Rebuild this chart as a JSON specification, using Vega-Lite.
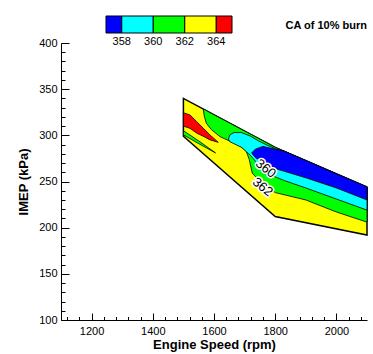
{
  "$schema": "https://vega.github.io/schema/vega-lite/v6.json",
  "width": 306,
  "height": 277,
  "autosize": {"type": "none"},
  "padding": {"left": 61, "top": 43, "right": 6, "bottom": 34},
  "title": {"text": "CA of 10% burn", "anchor": "end", "fontSize": 11, "fontWeight": "bold", "font": "Liberation Sans", "color": "black", "offset": -15, "frame": "group"},
  "config": {
    "view": {"stroke": null},
    "axis": {"domainColor": "black", "tickColor": "black", "labelColor": "black", "titleColor": "black", "labelFont": "Liberation Sans", "titleFont": "Liberation Sans", "labelFontSize": 11, "titleFontSize": 13, "titleFontWeight": "bold", "tickWidth": 1, "domainWidth": 1, "grid": false}
  },
  "data": {"values": [
    {"region": "base", "ca": 363, "rpm": 1500, "lo": 299, "hi": 340},
    {"region": "base", "ca": 363, "rpm": 1800, "lo": 212, "hi": 287},
    {"region": "base", "ca": 363, "rpm": 2100, "lo": 192, "hi": 244},

    {"region": "green", "ca": 361, "rpm": 1565, "lo": 328.5, "hi": 328.5},
    {"region": "green", "ca": 361, "rpm": 1568, "lo": 321, "hi": 328.0},
    {"region": "green", "ca": 361, "rpm": 1575, "lo": 313, "hi": 326.8},
    {"region": "green", "ca": 361, "rpm": 1592, "lo": 306, "hi": 323.7},
    {"region": "green", "ca": 361, "rpm": 1620, "lo": 298.5, "hi": 318.8},
    {"region": "green", "ca": 361, "rpm": 1650, "lo": 294, "hi": 313.5},
    {"region": "green", "ca": 361, "rpm": 1680, "lo": 290, "hi": 308.2},
    {"region": "green", "ca": 361, "rpm": 1705, "lo": 283, "hi": 303.8},
    {"region": "green", "ca": 361, "rpm": 1715, "lo": 274, "hi": 302.0},
    {"region": "green", "ca": 361, "rpm": 1725, "lo": 259, "hi": 300.3},
    {"region": "green", "ca": 361, "rpm": 1760, "lo": 247, "hi": 294.1},
    {"region": "green", "ca": 361, "rpm": 1800, "lo": 238, "hi": 287},
    {"region": "green", "ca": 361, "rpm": 1900, "lo": 230, "hi": 272.7},
    {"region": "green", "ca": 361, "rpm": 2000, "lo": 217, "hi": 258.3},
    {"region": "green", "ca": 361, "rpm": 2100, "lo": 206, "hi": 244},

    {"region": "sliver", "ca": 361, "rpm": 1500, "lo": 300.5, "hi": 305},
    {"region": "sliver", "ca": 361, "rpm": 1550, "lo": 291, "hi": 294},
    {"region": "sliver", "ca": 361, "rpm": 1605, "lo": 281, "hi": 281},

    {"region": "cyan", "ca": 359, "rpm": 1647, "lo": 296, "hi": 296},
    {"region": "cyan", "ca": 359, "rpm": 1652, "lo": 293, "hi": 300.5},
    {"region": "cyan", "ca": 359, "rpm": 1665, "lo": 291, "hi": 303},
    {"region": "cyan", "ca": 359, "rpm": 1690, "lo": 287, "hi": 303},
    {"region": "cyan", "ca": 359, "rpm": 1720, "lo": 278, "hi": 299},
    {"region": "cyan", "ca": 359, "rpm": 1745, "lo": 268, "hi": 294},
    {"region": "cyan", "ca": 359, "rpm": 1770, "lo": 261, "hi": 290},
    {"region": "cyan", "ca": 359, "rpm": 1800, "lo": 255, "hi": 285.5},
    {"region": "cyan", "ca": 359, "rpm": 1830, "lo": 251, "hi": 282.7},
    {"region": "cyan", "ca": 359, "rpm": 1900, "lo": 243, "hi": 272.7},
    {"region": "cyan", "ca": 359, "rpm": 2000, "lo": 231, "hi": 258.3},
    {"region": "cyan", "ca": 359, "rpm": 2100, "lo": 219, "hi": 244},

    {"region": "blue", "ca": 357, "rpm": 1723, "lo": 281, "hi": 281},
    {"region": "blue", "ca": 357, "rpm": 1735, "lo": 276, "hi": 285},
    {"region": "blue", "ca": 357, "rpm": 1760, "lo": 270, "hi": 288},
    {"region": "blue", "ca": 357, "rpm": 1800, "lo": 264, "hi": 285},
    {"region": "blue", "ca": 357, "rpm": 1830, "lo": 261, "hi": 282.7},
    {"region": "blue", "ca": 357, "rpm": 1900, "lo": 254, "hi": 272.7},
    {"region": "blue", "ca": 357, "rpm": 2000, "lo": 243, "hi": 258.3},
    {"region": "blue", "ca": 357, "rpm": 2100, "lo": 230, "hi": 244},

    {"region": "red", "ca": 365, "rpm": 1500, "lo": 310, "hi": 324.5},
    {"region": "red", "ca": 365, "rpm": 1522, "lo": 307.5, "hi": 322},
    {"region": "red", "ca": 365, "rpm": 1543, "lo": 302.5, "hi": 315},
    {"region": "red", "ca": 365, "rpm": 1571, "lo": 298, "hi": 305.7},
    {"region": "red", "ca": 365, "rpm": 1587, "lo": 295, "hi": 300.3},
    {"region": "red", "ca": 365, "rpm": 1614, "lo": 292.4, "hi": 292.4},

    {"region": "label", "ca": 360, "rpm": 1769, "lo": 264, "txt": "360"},
    {"region": "label", "ca": 362, "rpm": 1759, "lo": 244, "txt": "362"}
  ]},
  "encoding": {
    "x": {"field": "rpm", "type": "quantitative", "scale": {"domain": [1100, 2100], "nice": false, "zero": false},
      "axis": {"title": "Engine Speed (rpm)", "format": "d",
        "values": [1120,1160,1200,1240,1280,1320,1360,1400,1440,1480,1520,1560,1600,1640,1680,1720,1760,1800,1840,1880,1920,1960,2000,2040,2080],
        "labelExpr": "datum.value % 200 == 0 ? datum.label : ''",
        "tickSize": {"condition": {"test": "datum.value % 200 == 0", "value": -7}, "value": -3.5},
        "labelPadding": 12, "titlePadding": 2}},
    "y": {"field": "lo", "type": "quantitative", "scale": {"domain": [100, 400], "nice": false, "zero": false},
      "axis": {"title": "IMEP (kPa)", "format": "d",
        "values": [100,110,120,130,140,150,160,170,180,190,200,210,220,230,240,250,260,270,280,290,300,310,320,330,340,350,360,370,380,390,400],
        "labelExpr": "datum.value % 50 == 0 ? datum.label : ''",
        "tickSize": {"condition": {"test": "datum.value % 50 == 0", "value": -8}, "value": -4},
        "labelPadding": 12, "titlePadding": 8}},
    "color": {"field": "ca", "type": "quantitative",
      "scale": {"type": "threshold", "domain": [358, 359, 360, 361, 362, 363, 364], "range": ["#0000ff", "#00ffff", "#00ffff", "#00ff00", "#00ff00", "#ffff00", "#ffff00", "#ff0000"]},
      "legend": {"type": "gradient", "orient": "none", "legendX": 45, "legendY": -27, "direction": "horizontal", "gradientLength": 126, "gradientThickness": 17, "gradientStrokeColor": "black", "gradientStrokeWidth": 1, "title": null, "format": "d", "values": [357, 358, 360, 362, 364], "labelFont": "Liberation Sans", "labelFontSize": 11, "labelColor": "black", "labelOffset": 3, "padding": 0}}
  },
  "layer": [
    {"transform": [{"filter": "datum.region == 'base'"}],
     "mark": {"type": "area", "stroke": "black", "strokeWidth": 1.5, "opacity": 1},
     "encoding": {"y2": {"field": "hi"}}},
    {"transform": [{"filter": "datum.region == 'green'"}],
     "mark": {"type": "area", "stroke": "black", "strokeWidth": 0.8, "opacity": 1},
     "encoding": {"y2": {"field": "hi"}}},
    {"transform": [{"filter": "datum.region == 'sliver'"}],
     "mark": {"type": "area", "stroke": "black", "strokeWidth": 0.8, "opacity": 1},
     "encoding": {"y2": {"field": "hi"}}},
    {"transform": [{"filter": "datum.region == 'cyan'"}],
     "mark": {"type": "area", "stroke": "black", "strokeWidth": 0.8, "opacity": 1},
     "encoding": {"y2": {"field": "hi"}}},
    {"transform": [{"filter": "datum.region == 'blue'"}],
     "mark": {"type": "area", "stroke": "black", "strokeWidth": 0.8, "opacity": 1},
     "encoding": {"y2": {"field": "hi"}}},
    {"transform": [{"filter": "datum.region == 'red'"}],
     "mark": {"type": "area", "stroke": "black", "strokeWidth": 0.8, "opacity": 1},
     "encoding": {"y2": {"field": "hi"}}},
    {"transform": [{"filter": "datum.region == 'label'"}],
     "mark": {"type": "text", "angle": 38, "font": "Liberation Sans", "fontSize": 13, "stroke": "white", "strokeWidth": 3},
     "encoding": {"text": {"field": "txt"}, "color": {"value": "white"}}},
    {"transform": [{"filter": "datum.region == 'label'"}],
     "mark": {"type": "text", "angle": 38, "font": "Liberation Sans", "fontSize": 13},
     "encoding": {"text": {"field": "txt"}, "color": {"value": "black"}}}
  ]
}
